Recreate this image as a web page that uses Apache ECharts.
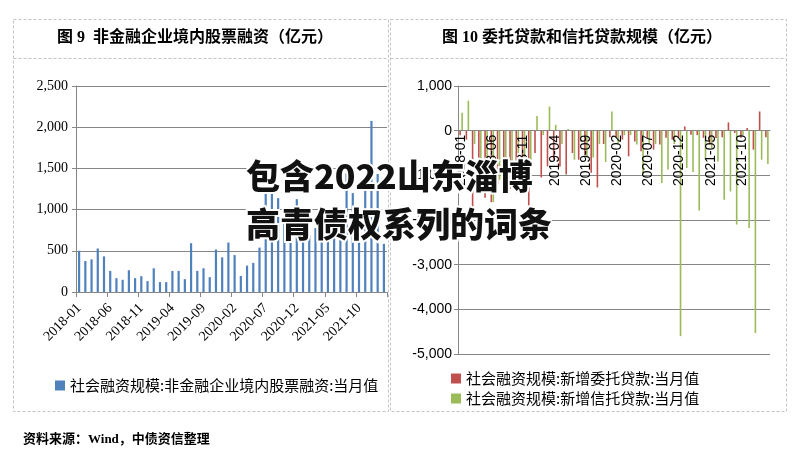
<!DOCTYPE html>
<html><head><meta charset="utf-8">
<script src="https://cdn.jsdelivr.net/npm/echarts@6/dist/echarts.min.js"></script>
<style>html,body{margin:0;padding:0;background:#fff}#c{width:799px;height:460px}</style>
</head><body><div id="c"></div>
<script>
const months = [
 '2018-01','2018-02','2018-03','2018-04','2018-05','2018-06','2018-07','2018-08','2018-09','2018-10','2018-11','2018-12',
 '2019-01','2019-02','2019-03','2019-04','2019-05','2019-06','2019-07','2019-08','2019-09','2019-10','2019-11','2019-12',
 '2020-01','2020-02','2020-03','2020-04','2020-05','2020-06','2020-07','2020-08','2020-09','2020-10','2020-11','2020-12',
 '2021-01','2021-02','2021-03','2021-04','2021-05','2021-06','2021-07','2021-08','2021-09','2021-10','2021-11','2021-12',
 '2022-01','2022-02'];
const equityFinancing = [
 500,376,396,528,432,256,168,148,264,168,192,132,
 288,120,120,256,256,156,592,256,288,180,516,420,
 600,448,195,320,353,539,1212,1250,1139,900,1000,1127,
 800,693,775,850,1000,850,900,1440,1200,1000,1300,2076,
 1432,584];
const entrustedLoans = [
 -100,-200,-1720,-1100,-1500,-1600,-1200,-1400,-1300,-1400,-1300,-1830,
 -500,-1050,-800,-650,-800,-980,-500,-650,-550,-940,-1270,-300,
 -150,-160,-200,-575,-240,-460,-160,-425,-310,-160,-200,-160,
 95,-90,-100,-160,-310,-165,-150,185,-50,-160,60,-425,
 430,-145];
const trustLoans = [
 400,670,-300,-700,-900,-1600,-1100,-700,-1000,-500,-700,-700,
 330,-100,540,130,-300,40,-650,-250,-600,-600,-300,-700,
 430,-280,-100,-100,-310,-985,-300,-300,-1170,-870,-300,-4600,
 -835,-925,-1790,-650,-400,-690,-1545,-1360,-2100,-100,-2180,-4530,
 -650,-745];
const leftTicks = {min: 0, max: 2500, step: 500};
const rightTicks = {min: -5000, max: 1000, step: 1000};
const leftTitle = '图 9  非金融企业境内股票融资（亿元）';
const rightTitle = '图 10 委托贷款和信托贷款规模（亿元）';
const leftSeriesName = '社会融资规模:非金融企业境内股票融资:当月值';
const redSeriesName = '社会融资规模:新增委托贷款:当月值';
const greenSeriesName = '社会融资规模:新增信托贷款:当月值';
const footer = '资料来源：Wind，中债资信整理';
const overlayLines = ['包含2022山东淄博', '高青债权系列的词条'];

const gray = '#868686';
const fmt = v => Number(v).toLocaleString('en-US');
const rightTop = 86, rightBottomEdge = 354;
const zeroOffset = -(rightBottomEdge - rightTop) * (0 - rightTicks.min) / (rightTicks.max - rightTicks.min);
const chart = echarts.init(document.getElementById('c'), null, {renderer: 'canvas'});
chart.setOption({
  backgroundColor: '#fff',
  animation: false,
  grid: [
    {left: 76, right: 412, top: 86, bottom: 168},
    {left: 458, right: 29, top: rightTop, bottom: 460 - rightBottomEdge}
  ],
  legend: [
    {data: [leftSeriesName], left: 50, top: 373, itemWidth: 10, itemHeight: 10, icon: 'rect',
     textStyle: {fontFamily: 'Noto Sans CJK SC', fontSize: 15, color: '#000'}},
    {data: [redSeriesName, greenSeriesName], orient: 'vertical', left: 446, top: 366, itemGap: 5,
     itemWidth: 10, itemHeight: 10, icon: 'rect',
     textStyle: {fontFamily: 'Noto Sans CJK SC', fontSize: 15, color: '#000', lineHeight: 15}}
  ],
  xAxis: [
    {type: 'category', gridIndex: 0, data: months, boundaryGap: true,
     axisLine: {lineStyle: {color: gray}},
     axisTick: {show: true, interval: 4, length: 5, lineStyle: {color: gray}},
     axisLabel: {interval: 4, rotate: 45, margin: 14, fontFamily: 'Liberation Serif', fontSize: 14, color: '#000'}},
    {type: 'category', gridIndex: 1, data: months, boundaryGap: true, position: 'bottom', offset: zeroOffset, z: 20,
     axisLine: {onZero: false, lineStyle: {color: gray}},
     axisTick: {show: false},
     axisLabel: {interval: 4, rotate: 90, margin: 4, fontFamily: 'Liberation Sans', fontSize: 14, color: '#000'}}
  ],
  yAxis: [
    {type: 'value', gridIndex: 0, min: leftTicks.min, max: leftTicks.max, interval: leftTicks.step,
     axisLine: {show: true, lineStyle: {color: gray}},
     axisTick: {show: true, length: 4, lineStyle: {color: gray}},
     splitLine: {lineStyle: {color: gray}},
     axisLabel: {formatter: fmt, margin: 8, fontFamily: 'Liberation Serif', fontSize: 14, color: '#000'}},
    {type: 'value', gridIndex: 1, min: rightTicks.min, max: rightTicks.max, interval: rightTicks.step,
     axisLine: {show: true, lineStyle: {color: gray}},
     axisTick: {show: true, length: 4, lineStyle: {color: gray}},
     splitLine: {lineStyle: {color: gray}},
     axisLabel: {formatter: fmt, margin: 6, fontFamily: 'Liberation Sans', fontSize: 14, color: '#000'}}
  ],
  series: [
    {name: leftSeriesName, type: 'bar', xAxisIndex: 0, yAxisIndex: 0, data: equityFinancing,
     barWidth: 2.2, itemStyle: {color: '#4F81BD'}},
    {name: redSeriesName, type: 'bar', xAxisIndex: 1, yAxisIndex: 1, data: entrustedLoans,
     barWidth: 1.6, barGap: '25%', itemStyle: {color: '#C0504D'}},
    {name: greenSeriesName, type: 'bar', xAxisIndex: 1, yAxisIndex: 1, data: trustLoans,
     barWidth: 1.6, barGap: '25%', itemStyle: {color: '#9BBB59'}}
  ],
  graphic: [
    {type: 'rect', shape: {x: 13.5, y: 19.5, width: 375, height: 392}, z: 1,
     style: {fill: 'none', stroke: '#c4c4c4', lineWidth: 1, lineDash: [3, 2]}},
    {type: 'line', shape: {x1: 13.5, y1: 58.5, x2: 388.5, y2: 58.5}, z: 1,
     style: {stroke: '#c4c4c4', lineWidth: 1, lineDash: [3, 2]}},
    {type: 'rect', shape: {x: 390.5, y: 19.5, width: 396, height: 392}, z: 1,
     style: {fill: 'none', stroke: '#c4c4c4', lineWidth: 1, lineDash: [3, 2]}},
    {type: 'line', shape: {x1: 390.5, y1: 58.5, x2: 786.5, y2: 58.5}, z: 1,
     style: {stroke: '#c4c4c4', lineWidth: 1, lineDash: [3, 2]}},
    {type: 'text', left: 57, top: 30, z: 10,
     style: {text: leftTitle, fontFamily: "'Liberation Serif','Noto Sans CJK SC'", fontWeight: 'bold', fontSize: 16, fill: '#000'}},
    {type: 'text', left: 442, top: 30, z: 10,
     style: {text: rightTitle, fontFamily: "'Liberation Serif','Noto Sans CJK SC'", fontWeight: 'bold', fontSize: 16, fill: '#000'}},
    {type: 'text', left: 23, top: 433, z: 10,
     style: {text: footer, fontFamily: "'Liberation Serif','Noto Sans CJK SC'", fontWeight: 'bold', fontSize: 13, fill: '#000'}},
    {type: 'text', left: 244, top: 157, z: 100,
     style: {text: overlayLines[0], fontFamily: 'Noto Sans CJK SC', fontWeight: 900, fontSize: 34, fill: '#111',
             stroke: '#fff', lineWidth: 4}},
    {type: 'text', left: 244, top: 205, z: 100,
     style: {text: overlayLines[1], fontFamily: 'Noto Sans CJK SC', fontWeight: 900, fontSize: 34, fill: '#111',
             stroke: '#fff', lineWidth: 4}}
  ]
});
</script></body></html>
